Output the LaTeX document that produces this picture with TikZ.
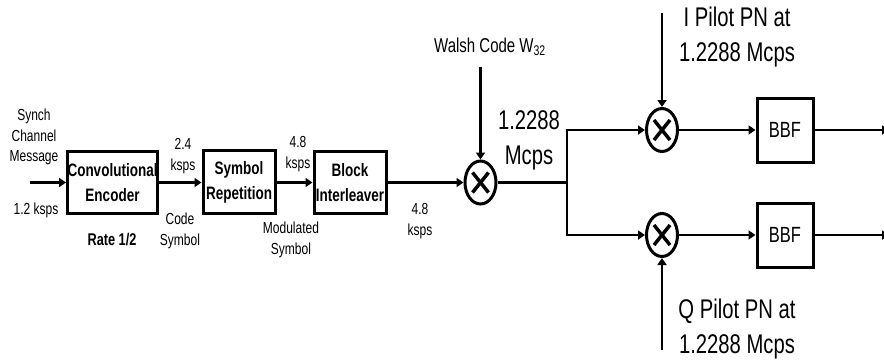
\documentclass[tikz,border=0pt]{standalone}
\usepackage{fontspec}
\setmainfont[FakeStretch=0.75]{Liberation Sans}
\usetikzlibrary{arrows.meta,shapes.geometric}
\tikzset{
  box/.style={draw,line width=3pt,inner sep=0pt,align=center,
    font=\bfseries\fontsize{18}{25}\selectfont},
  bbf/.style={draw,line width=3pt,inner sep=0pt,minimum width=56pt,minimum height=64pt,
    font=\fontsize{22}{26}\selectfont},
  mult/.style={ellipse,draw,line width=3pt,minimum width=31pt,minimum height=43pt,inner sep=0pt,
    path picture={
      \draw[line width=3.5pt] ([shift={(-8pt,-10pt)}]path picture bounding box.center) -- ([shift={(8pt,10pt)}]path picture bounding box.center);
      \draw[line width=3.5pt] ([shift={(-8pt,10pt)}]path picture bounding box.center) -- ([shift={(8pt,-10pt)}]path picture bounding box.center);
    }},
  lbl/.style={inner sep=0pt,align=center,font=\fontsize{16}{20.5}\selectfont},
  ratelbl/.style={inner sep=0pt,font=\bfseries\fontsize{17}{20}\selectfont},
  walshlbl/.style={inner sep=0pt,font=\fontsize{20}{24}\selectfont},
  big/.style={inner sep=0pt,align=center,font=\fontsize{27}{35}\selectfont},
  wire/.style={line width=2.6pt},
  arr/.style={wire,-{Triangle[length=7pt,width=9pt]}},
}
\begin{document}
\begin{tikzpicture}[x=1pt,y=-1pt]
\useasboundingbox (0,0) rectangle (884,360);
\clip (0,0) rectangle (884,360);
% blocks
\node[box,minimum width=89pt,minimum height=62pt] (conv) at (112.5,182.5) {Convolutional\\Encoder};
\node[box,minimum width=72pt,minimum height=63pt] (rep) at (239,182) {Symbol\\Repetition};
\node[box,minimum width=72pt,minimum height=62pt] (intl) at (350,182.5) {Block\\Interleaver};
\node[mult] (mw) at (480.5,182.5) {};
\node[mult] (mi) at (662,130) {};
\node[mult] (mq) at (662,235) {};
\node[bbf] (bbfi) at (785,130) {BBF};
\node[bbf] (bbfq) at (785,235) {BBF};
% coordinates
\coordinate (in) at (30,182.5);
\coordinate (wtop) at (480.5,67);
\coordinate (br) at (567,182.5);
\coordinate (itop) at (662,13);
\coordinate (qbot) at (662,350);
\coordinate (outi) at (889,130);
\coordinate (outq) at (889,235);
% labels
\node[lbl] (synch) at (34,137) {Synch\\Channel\\Message};
\node[lbl] (r12) at (36,210) {1.2 ksps};
\node[ratelbl] (rate) at (112,240) {Rate 1/2};
\node[lbl] (k24) at (183,156) {2.4\\ksps};
\node[lbl] (cs) at (180,231) {Code\\Symbol};
\node[lbl] (k48a) at (298,154) {4.8\\ksps};
\node[lbl] (ms) at (291,240) {Modulated\\Symbol};
\node[lbl] (k48b) at (420,221) {4.8\\ksps};
\node[walshlbl] (walsh) at (490,47) {Walsh Code W\textsubscript{32}};
\node[big] (chip) at (529,140.5) {1.2288\\Mcps};
\node[big] (ipn) at (737,37.5) {I Pilot PN at\\1.2288 Mcps};
\node[big] (qpn) at (737,329) {Q Pilot PN at\\1.2288 Mcps};
% connectors
\draw[arr] (in) -- (conv.west);
\draw[arr] (conv.east) -- (rep.west |- conv.east);
\draw[arr] (rep.east |- intl.west) -- (intl.west);
\draw[arr] (intl.east) -- (mw.west);
\draw[arr] (wtop) -- (mw.north);
\draw[wire] (mw.east) -- (br);
\draw[arr] (br) |- (mi.west);
\draw[arr] (br) |- (mq.west);
\draw[arr] (itop) -- (mi.north);
\draw[arr] (qbot) -- (mq.south);
\draw[arr] (mi.east) -- (bbfi.west);
\draw[arr] (mq.east) -- (bbfq.west);
\draw[arr] (bbfi.east) -- (outi);
\draw[arr] (bbfq.east) -- (outq);
\end{tikzpicture}
\end{document}
